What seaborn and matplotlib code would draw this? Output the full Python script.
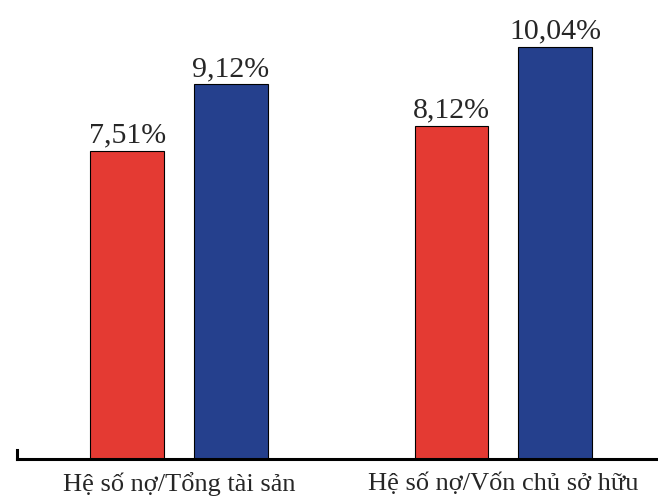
import pandas as pd
import matplotlib
matplotlib.use('Agg')
import matplotlib.pyplot as plt
import seaborn as sns

# Du lieu
categories = ['Hệ số nợ/Tổng tài sản', 'Hệ số nợ/Vốn chủ sở hữu']
series = ['Kỳ 1', 'Kỳ 2']
values_1 = [7.51, 8.12]
values_2 = [9.12, 10.04]
colors = ['#E43A33', '#25408D']

df = pd.DataFrame({
    'cat': categories * 2,
    'series': [series[0]] * 2 + [series[1]] * 2,
    'value': values_1 + values_2,
})

sns.set_style('white')
plt.rcParams['font.family'] = ['Liberation Serif', 'DejaVu Serif']

fig = plt.figure(figsize=(6.58, 5.02), dpi=100)
ax = fig.add_axes([17 / 658, 42 / 502, 1 - 17 / 658, 1 - 42 / 502])

sns.barplot(data=df, x='cat', y='value', hue='series', palette=colors,
            saturation=1, width=0.64, gap=0.29, edgecolor='black',
            linewidth=0.8, legend=False, ax=ax)

for cont in ax.containers:
    labels = [f'{v:.2f}%'.replace('.', ',') for v in cont.datavalues]
    ax.bar_label(cont, labels=labels, fontsize=21.5, padding=2)

ax.set_xlim(-0.5, 1.477)
ax.set_ylim(0, 11.2)
ax.set_xlabel('')
ax.set_ylabel('')
ax.set_yticks([])
ax.tick_params(axis='x', length=0, labelsize=19, pad=9)

for s in ['top', 'right']:
    ax.spines[s].set_visible(False)
ax.spines['bottom'].set_linewidth(2.2)
ax.spines['bottom'].set_color('black')
ax.spines['left'].set_linewidth(2.2)
ax.spines['left'].set_color('black')
ax.spines['left'].set_bounds(0, 0.22)

plt.savefig('out.png', dpi=100)
